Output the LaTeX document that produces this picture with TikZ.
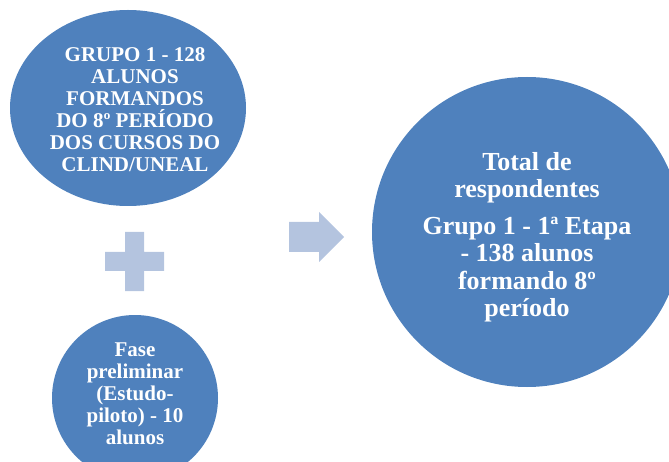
\documentclass[tikz,border=0pt]{standalone}
\usepackage{fontspec}
\setmainfont{Liberation Serif}
\definecolor{dblue}{HTML}{4F81BD}
\definecolor{lblue}{HTML}{B4C4DF}
\begin{document}
\begin{tikzpicture}[x=1pt,y=-1pt,
  txt/.style={text=white,align=center,inner sep=0pt},
  small/.style={txt,font=\fontsize{21}{22}\selectfont\bfseries},
  big/.style={txt,font=\fontsize{26}{27.5}\selectfont\bfseries}]
\useasboundingbox (0,0) rectangle (669,462);
\clip (0,0) rectangle (669,462);
% shapes
\fill[dblue] (128,108) ellipse [x radius=118, y radius=98];
\fill[dblue] (135,398) circle [radius=83];
\fill[dblue] (527,232) circle [radius=155];
\fill[lblue] (125,232) -- (144,232) -- (144,252) -- (164,252) -- (164,271) -- (144,271) -- (144,291) -- (125,291) -- (125,271) -- (105,271) -- (105,252) -- (125,252) -- cycle;
\fill[lblue] (289,222) -- (319,222) -- (319,212) -- (344,237) -- (319,262) -- (319,252) -- (289,252) -- cycle;
% texts
\node[small] (g1) at (135,110) {GRUPO 1 - 128\\ALUNOS\\FORMANDOS\\DO 8º PERÍODO\\DOS CURSOS DO\\CLIND/UNEAL};
\node[small] (fp) at (135,394) {Fase\\preliminar\\(Estudo-\\piloto) - 10\\alunos};
\node[big] (tot) at (527,237) {Total de\\respondentes\\[9pt]Grupo 1 - 1ª Etapa\\- 138 alunos\\formando 8º\\período};
\end{tikzpicture}
\end{document}
